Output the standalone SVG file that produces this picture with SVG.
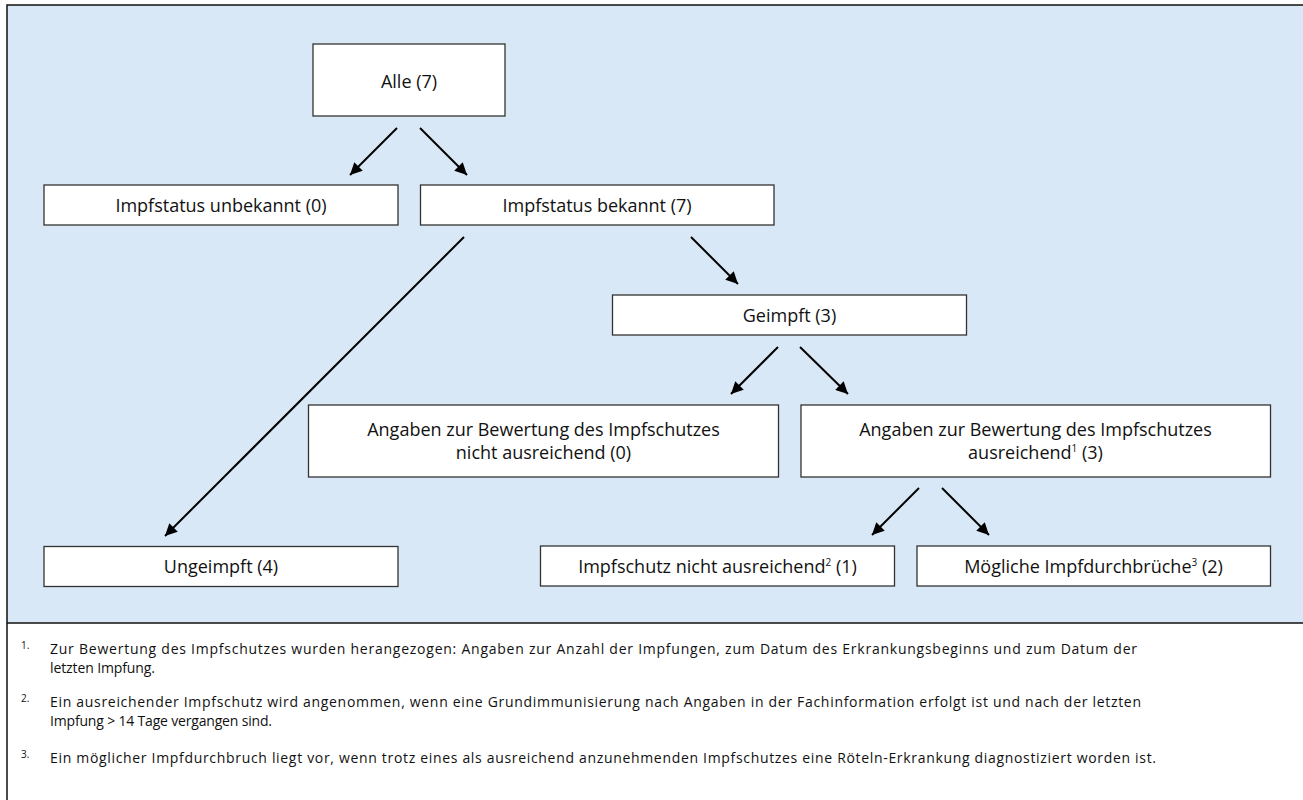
<svg xmlns="http://www.w3.org/2000/svg" width="1303" height="800" viewBox="0 0 1303 800">
<defs>
<style>
.bx{fill:#fff;stroke:#333;stroke-width:1.3}
.t{font-family:"Open Sans","Noto Sans",sans-serif;font-size:18px;fill:#111;text-anchor:middle}
.f{font-family:"Open Sans","Noto Sans",sans-serif;font-size:14px;fill:#111}
.fn{font-family:"Open Sans","Noto Sans",sans-serif;font-size:10px;fill:#111}
.sup{font-size:10px}
.c{stroke:#000;stroke-width:2;fill:none;marker-end:url(#ah)}
</style>
<marker id="ah" viewBox="0 0 10 10" refX="10" refY="5" markerWidth="7" markerHeight="6" markerUnits="strokeWidth" orient="auto">
<path d="M0,0 L10,5 L0,10 z" fill="#000"/>
</marker>
</defs>
<rect x="0" y="0" width="1303" height="800" fill="#fff"/>
<rect x="7" y="5" width="1300" height="618" fill="#d9e8f6"/>
<path d="M7,800 V5 H1303 M7,623 H1303" stroke="#111" stroke-width="1.5" fill="none"/>

<g id="connectors">
<line class="c" x1="397" y1="128" x2="350" y2="175"/>
<line class="c" x1="420" y1="128" x2="467" y2="175"/>
<line class="c" x1="464" y1="237" x2="165" y2="536"/>
<line class="c" x1="691" y1="237" x2="738" y2="284"/>
<line class="c" x1="778" y1="347" x2="731" y2="394"/>
<line class="c" x1="800" y1="347" x2="848" y2="394"/>
<line class="c" x1="919" y1="488" x2="872" y2="535"/>
<line class="c" x1="942" y1="488" x2="989" y2="535"/>
</g>

<g id="n-alle"><rect class="bx" x="313" y="44" width="192" height="72"/><text class="t" x="409" y="88">Alle (7)</text></g>
<g id="n-unbekannt"><rect class="bx" x="44" y="185" width="354" height="40"/><text class="t" x="221" y="211.5">Impfstatus unbekannt (0)</text></g>
<g id="n-bekannt"><rect class="bx" x="420.5" y="185" width="353.5" height="40"/><text class="t" x="597" y="211.5">Impfstatus bekannt (7)</text></g>
<g id="n-geimpft"><rect class="bx" x="612.5" y="295" width="354" height="40"/><text class="t" x="789.5" y="321.5">Geimpft (3)</text></g>
<g id="n-nicht-ausreichend"><rect class="bx" x="308.5" y="405" width="470" height="72"/><text class="t" x="543.5" y="435.5">Angaben zur Bewertung des Impfschutzes<tspan x="543.5" dy="23.5">nicht ausreichend (0)</tspan></text></g>
<g id="n-ausreichend"><rect class="bx" x="801" y="405" width="469.5" height="72"/><text class="t" x="1035.5" y="435.5">Angaben zur Bewertung des Impfschutzes<tspan x="1035.5" dy="23.5">ausreichend</tspan><tspan class="sup" dy="-7">1</tspan><tspan dy="7"> (3)</tspan></text></g>
<g id="n-ungeimpft"><rect class="bx" x="44" y="546.5" width="354" height="40"/><text class="t" x="221" y="572.5">Ungeimpft (4)</text></g>
<g id="n-impfschutz-nicht"><rect class="bx" x="540.5" y="546" width="354" height="40"/><text class="t" x="717.5" y="572.5">Impfschutz nicht ausreichend<tspan class="sup" dy="-7">2</tspan><tspan dy="7"> (1)</tspan></text></g>
<g id="n-moegliche"><rect class="bx" x="917" y="546" width="353.5" height="40"/><text class="t" x="1093.5" y="572.5">Mögliche Impfdurchbrüche<tspan class="sup" dy="-7">3</tspan><tspan dy="7"> (2)</tspan></text></g>

<g id="footnotes">
<text class="fn" x="21" y="649">1.</text>
<text class="f" x="50" y="654" textLength="1087" lengthAdjust="spacing">Zur Bewertung des Impfschutzes wurden herangezogen: Angaben zur Anzahl der Impfungen, zum Datum des Erkrankungsbeginns und zum Datum der</text>
<text class="f" x="50" y="673" textLength="105" lengthAdjust="spacing">letzten Impfung.</text>
<text class="fn" x="21" y="702">2.</text>
<text class="f" x="50" y="707" textLength="1091" lengthAdjust="spacing">Ein ausreichender Impfschutz wird angenommen, wenn eine Grundimmunisierung nach Angaben in der Fachinformation erfolgt ist und nach der letzten</text>
<text class="f" x="50" y="726" textLength="222" lengthAdjust="spacing">Impfung &gt; 14 Tage vergangen sind.</text>
<text class="fn" x="21" y="758">3.</text>
<text class="f" x="50" y="763" textLength="1106" lengthAdjust="spacing">Ein möglicher Impfdurchbruch liegt vor, wenn trotz eines als ausreichend anzunehmenden Impfschutzes eine Röteln-Erkrankung diagnostiziert worden ist.</text>
</g>
</svg>
